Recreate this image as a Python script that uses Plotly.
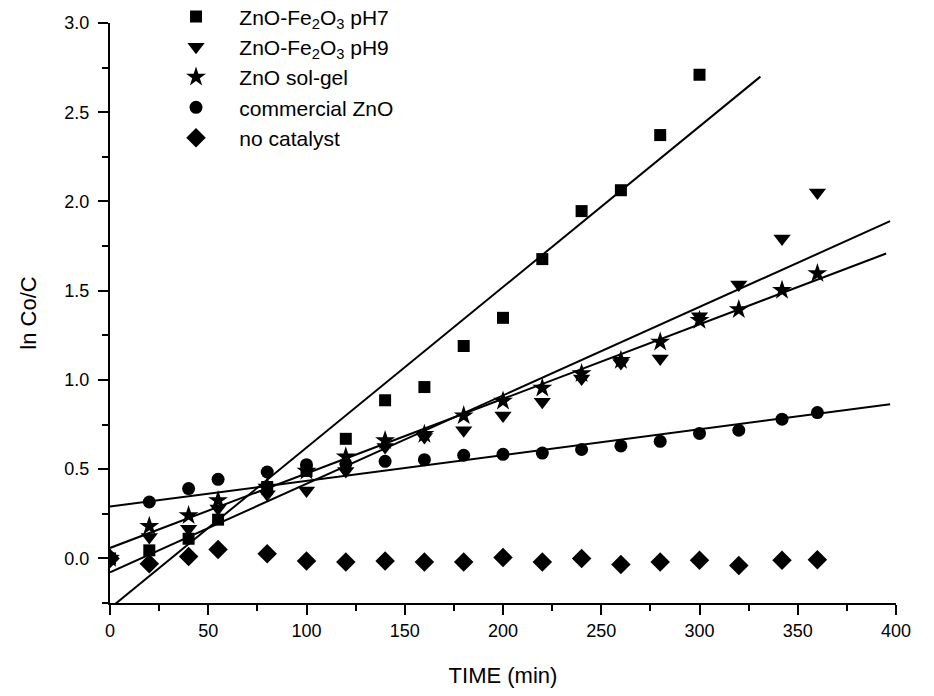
import numpy as np
import plotly.graph_objects as go

# ---- data ----
time_all = [0, 20, 40, 55, 80, 100, 120, 140, 160, 180, 200, 220, 240, 260, 280, 300, 320, 342, 360]
time_ph7 = [0, 20, 40, 55, 80, 100, 120, 140, 160, 180, 200, 220, 240, 260, 280, 300]

ph7 = [0.0, 0.045, 0.11, 0.217, 0.40, 0.49, 0.67, 0.886, 0.96, 1.19, 1.348, 1.677, 1.946, 2.063, 2.372, 2.71]
ph9 = [0.0, 0.12, 0.166, 0.28, 0.36, 0.38, 0.49, 0.624, 0.68, 0.718, 0.80, 0.877, 1.008, 1.095, 1.12, 1.357, 1.535, 1.793, 2.05]
solgel = [0.0, 0.18, 0.24, 0.325, 0.40, 0.49, 0.57, 0.66, 0.695, 0.80, 0.882, 0.955, 1.036, 1.11, 1.213, 1.335, 1.395, 1.503, 1.597]
commercial = [0.0, 0.316, 0.391, 0.443, 0.484, 0.525, 0.53, 0.544, 0.553, 0.578, 0.583, 0.59, 0.61, 0.63, 0.656, 0.70, 0.718, 0.78, 0.817]
nocat = [0.0, -0.03, 0.01, 0.05, 0.026, -0.015, -0.02, -0.015, -0.02, -0.02, 0.005, -0.02, 0.0, -0.034, -0.02, -0.01, -0.04, -0.01, -0.007]

names = ["ZnO-Fe<sub>2</sub>O<sub>3</sub> pH7", "ZnO-Fe<sub>2</sub>O<sub>3</sub> pH9",
         "ZnO sol-gel", "commercial ZnO", "no catalyst"]
symbols = ["square", "triangle-down", "star", "circle", "diamond"]
sizes = [12, 15, 15, 13, 15]
xs = [time_ph7, time_all, time_all, time_all, time_all]
ys = [ph7, ph9, solgel, commercial, nocat]
fit_ends = [331, 397, 395, 397, None]

FONT = "Liberation Sans, Arial, Helvetica, sans-serif"

fig = go.Figure()

# fit lines
for x, y, xe in zip(xs, ys, fit_ends):
    if xe is None:
        continue
    k, b = np.polyfit(np.array(x, float), np.array(y, float), 1)
    xl = np.array([0.0, xe])
    fig.add_trace(go.Scatter(x=xl, y=k * xl + b, mode="lines",
                             line=dict(color="black", width=2),
                             showlegend=False, hoverinfo="skip"))

for x, y, n, s, sz in zip(xs, ys, names, symbols, sizes):
    fig.add_trace(go.Scatter(x=x, y=y, mode="markers", name="\u00a0\u00a0\u00a0\u00a0" + n,
                             marker=dict(symbol=s, size=sz, color="black",
                                         line=dict(width=0)),
                             cliponaxis=True))

axis_common = dict(showline=True, linecolor="black", linewidth=2, ticks="outside",
                   tickcolor="black", tickwidth=2, ticklen=10, showgrid=False,
                   zeroline=False, mirror=False,
                   tickfont=dict(family=FONT, size=18, color="black"))

fig.update_layout(
    width=934, height=696,
    margin=dict(l=110, r=38, t=23, b=93, autoexpand=False),
    paper_bgcolor="white", plot_bgcolor="white",
    font=dict(family=FONT, color="black"),
    xaxis=dict(range=[0, 400], dtick=50, tick0=0,
               title=dict(text="TIME (min)", font=dict(family=FONT, size=22), standoff=28),
               minor=dict(dtick=25, ticks="outside", ticklen=6, tickwidth=2, tickcolor="black"),
               **axis_common),
    yaxis=dict(range=[-0.25, 3.0], dtick=0.5, tick0=0, tickformat=".1f",
               ticklabelstandoff=5,
               title=dict(text="ln Co/C", font=dict(family=FONT, size=22), standoff=22),
               minor=dict(dtick=0.25, ticks="outside", ticklen=6, tickwidth=2, tickcolor="black"),
               **axis_common),
    legend=dict(x=0.084, y=1.046, xanchor="left", yanchor="top",
                bgcolor="rgba(0,0,0,0)", borderwidth=0,
                font=dict(family=FONT, size=21, color="black"),
                tracegroupgap=0, itemsizing="trace"),
    showlegend=True,
)

fig.write_html("out.html")
